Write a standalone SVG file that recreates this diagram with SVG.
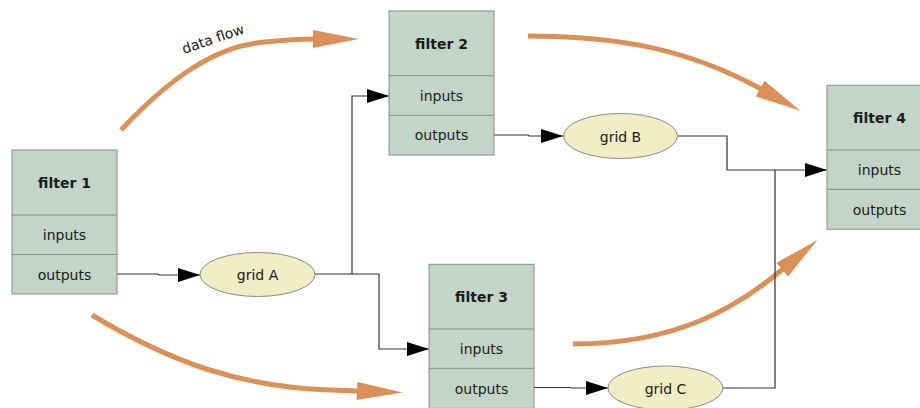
<svg xmlns="http://www.w3.org/2000/svg" width="920" height="408" viewBox="0 0 920 408">
  <style>
    .box { fill: #c2d5c8; stroke: #8a8a8a; stroke-width: 1; }
    .sep { stroke: #8a8a8a; stroke-width: 1; }
    .grid { fill: #f1edc4; stroke: #8a8a8a; stroke-width: 1; }
    .title { font-family: "DejaVu Sans", "Liberation Sans", sans-serif; font-size: 14px; font-weight: bold; fill: #1a1a1a; text-anchor: middle; }
    .lbl { font-family: "DejaVu Sans", "Liberation Sans", sans-serif; font-size: 14px; fill: #1a1a1a; text-anchor: middle; }
    .wire { fill: none; stroke: #333; stroke-width: 1.2; }
    .flow { fill: none; stroke: #db9058; stroke-width: 5; }
  </style>
  <defs>
    <marker id="tip" markerUnits="userSpaceOnUse" markerWidth="22" markerHeight="14" refX="22" refY="7" orient="auto" overflow="visible">
      <path d="M0,0 L22,7 L0,14 z" fill="#000"/>
    </marker>
    <marker id="bigtip" markerUnits="userSpaceOnUse" markerWidth="46" markerHeight="18" refX="1" refY="9" orient="auto" overflow="visible">
      <path d="M0,0 L46,9 L0,18 z" fill="#db9058"/>
    </marker>
  </defs>

  <!-- data flow arrows -->
  <g id="flow">
    <path class="flow" d="M121,130 C170,78 215,46 265,42 C285,40 300,39 314,39" marker-end="url(#bigtip)"/>
    <path class="flow" d="M528,36 C620,36 690,50 761,89" marker-end="url(#bigtip)"/>
    <path class="flow" d="M573,344 C680,344 740,305 783,269" marker-end="url(#bigtip)"/>
    <path class="flow" d="M92,315 C170,362 240,387 330,390 L358,391" marker-end="url(#bigtip)"/>
    <text class="lbl" style="text-anchor:start" transform="translate(184,54) rotate(-19)">data flow</text>
  </g>

  <!-- connectors -->
  <g id="connectors">
    <path class="wire" d="M117,274 H158 L159,275 H200" marker-end="url(#tip)"/>
    <path class="wire" d="M315,274 H352 V96 H389" marker-end="url(#tip)"/>
    <path class="wire" d="M352,274 H379 V349 H429" marker-end="url(#tip)"/>
    <path class="wire" d="M494,135 H528 L529,136 H563" marker-end="url(#tip)"/>
    <path class="wire" d="M534,387.5 H570 L571,388 H608" marker-end="url(#tip)"/>
    <path class="wire" d="M678,136 H727 V170 H827" marker-end="url(#tip)"/>
    <path class="wire" d="M723,388 H775 V170"/>
  </g>

  <!-- filters -->
  <g id="filter1">
    <rect class="box" x="12" y="150" width="105" height="144"/>
    <line class="sep" x1="12" y1="215" x2="117" y2="215"/>
    <line class="sep" x1="12" y1="254.5" x2="117" y2="254.5"/>
    <text class="title" x="64.5" y="188">filter 1</text>
    <text class="lbl" x="64.5" y="240">inputs</text>
    <text class="lbl" x="64.5" y="279.5">outputs</text>
  </g>
  <g id="filter2">
    <rect class="box" x="389" y="11" width="105" height="144"/>
    <line class="sep" x1="389" y1="75.7" x2="494" y2="75.7"/>
    <line class="sep" x1="389" y1="115.3" x2="494" y2="115.3"/>
    <text class="title" x="441.5" y="49">filter 2</text>
    <text class="lbl" x="441.5" y="101">inputs</text>
    <text class="lbl" x="441.5" y="140">outputs</text>
  </g>
  <g id="filter3">
    <rect class="box" x="429" y="264.3" width="105" height="144"/>
    <line class="sep" x1="429" y1="329" x2="534" y2="329"/>
    <line class="sep" x1="429" y1="368.3" x2="534" y2="368.3"/>
    <text class="title" x="481.5" y="302">filter 3</text>
    <text class="lbl" x="481.5" y="354">inputs</text>
    <text class="lbl" x="481.5" y="393.5">outputs</text>
  </g>
  <g id="filter4">
    <rect class="box" x="827" y="85.3" width="105" height="144"/>
    <line class="sep" x1="827" y1="150" x2="932" y2="150"/>
    <line class="sep" x1="827" y1="189.3" x2="932" y2="189.3"/>
    <text class="title" x="879.5" y="123">filter 4</text>
    <text class="lbl" x="879.5" y="175">inputs</text>
    <text class="lbl" x="879.5" y="214.5">outputs</text>
  </g>

  <!-- grids -->
  <g id="gridA">
    <ellipse class="grid" cx="257.5" cy="274.5" rx="57.5" ry="22"/>
    <text class="lbl" x="257.5" y="280">grid A</text>
  </g>
  <g id="gridB">
    <ellipse class="grid" cx="620.5" cy="136" rx="57" ry="22.5"/>
    <text class="lbl" x="620.5" y="141.5">grid B</text>
  </g>
  <g id="gridC">
    <ellipse class="grid" cx="665.5" cy="388" rx="57.5" ry="22"/>
    <text class="lbl" x="665.5" y="393.5">grid C</text>
  </g>
</svg>
